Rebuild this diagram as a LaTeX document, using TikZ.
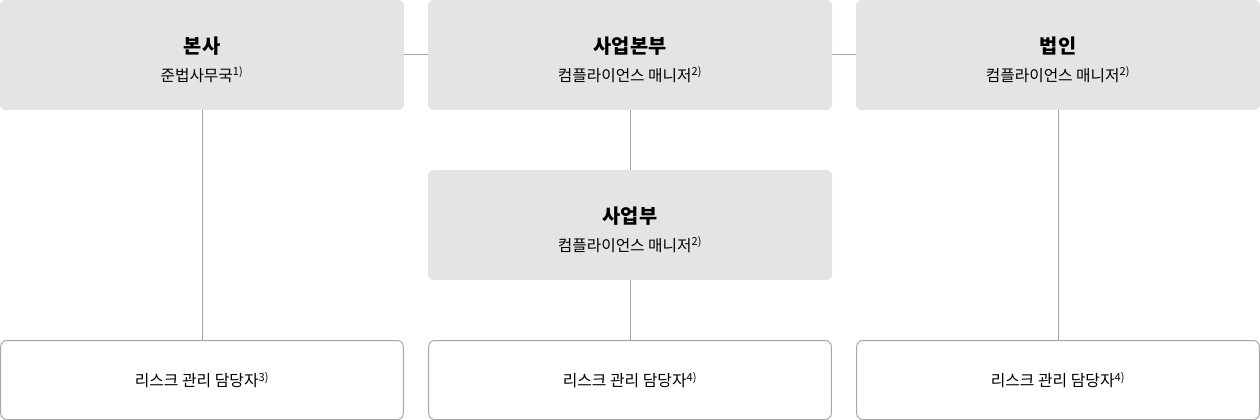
\documentclass[tikz,border=0pt]{standalone}
\usepackage{fontspec}
\setmainfont{Noto Sans CJK KR}
\usetikzlibrary{positioning}
\definecolor{boxgray}{HTML}{E4E4E4}
\definecolor{linegray}{HTML}{A6A6A6}
\newcommand{\orgtitle}[1]{{\fontsize{14.8pt}{20pt}\selectfont\bfseries\rule{0pt}{19pt}#1}}
\newcommand{\orgnote}[1]{\textsuperscript{#1}}
\begin{document}
\begin{tikzpicture}[x=0.75pt,y=-0.75pt,
  unit/.style={rectangle,rounded corners=4.5pt,fill=boxgray,minimum width=303pt,minimum height=82.5pt,inner sep=0pt,align=center,font=\fontsize{11.8pt}{21pt}\selectfont},
  staff/.style={rectangle,rounded corners=4.5pt,draw=linegray,line width=0.75pt,fill=white,minimum width=302pt,minimum height=59.25pt,inner sep=0pt,align=center,font=\fontsize{11.9pt}{14pt}\selectfont},
  link/.style={draw=linegray,line width=0.75pt}]
	\useasboundingbox (0,0) rectangle (1260,420);
	\node[unit]		(hq)		at (202,55)		{\orgtitle{본사}\\준법사무국\orgnote{1)}};
	\node[unit]		(div)		at (630,55)		{\orgtitle{사업본부}\\컴플라이언스 매니저\orgnote{2)}};
	\node[unit]		(corp)		at (1058,55)	{\orgtitle{법인}\\컴플라이언스 매니저\orgnote{2)}};
	\node[unit]		(dept)		at (630,225)	{\orgtitle{사업부}\\컴플라이언스 매니저\orgnote{2)}};
	\node[staff]	(hqrisk)	at (202,380)	{리스크 관리 담당자\orgnote{3)}};
	\node[staff]	(deptrisk)	at (630,380)	{리스크 관리 담당자\orgnote{4)}};
	\node[staff]	(corprisk)	at (1058,380)	{리스크 관리 담당자\orgnote{4)}};

	\draw[link] (hq) -- (div);
	\draw[link] (div) -- (corp);
	\draw[link] (hq) -- (hqrisk);
	\draw[link] (div) -- (dept);
	\draw[link] (dept) -- (deptrisk);
	\draw[link] (corp) -- (corprisk);
\end{tikzpicture}
\end{document}
